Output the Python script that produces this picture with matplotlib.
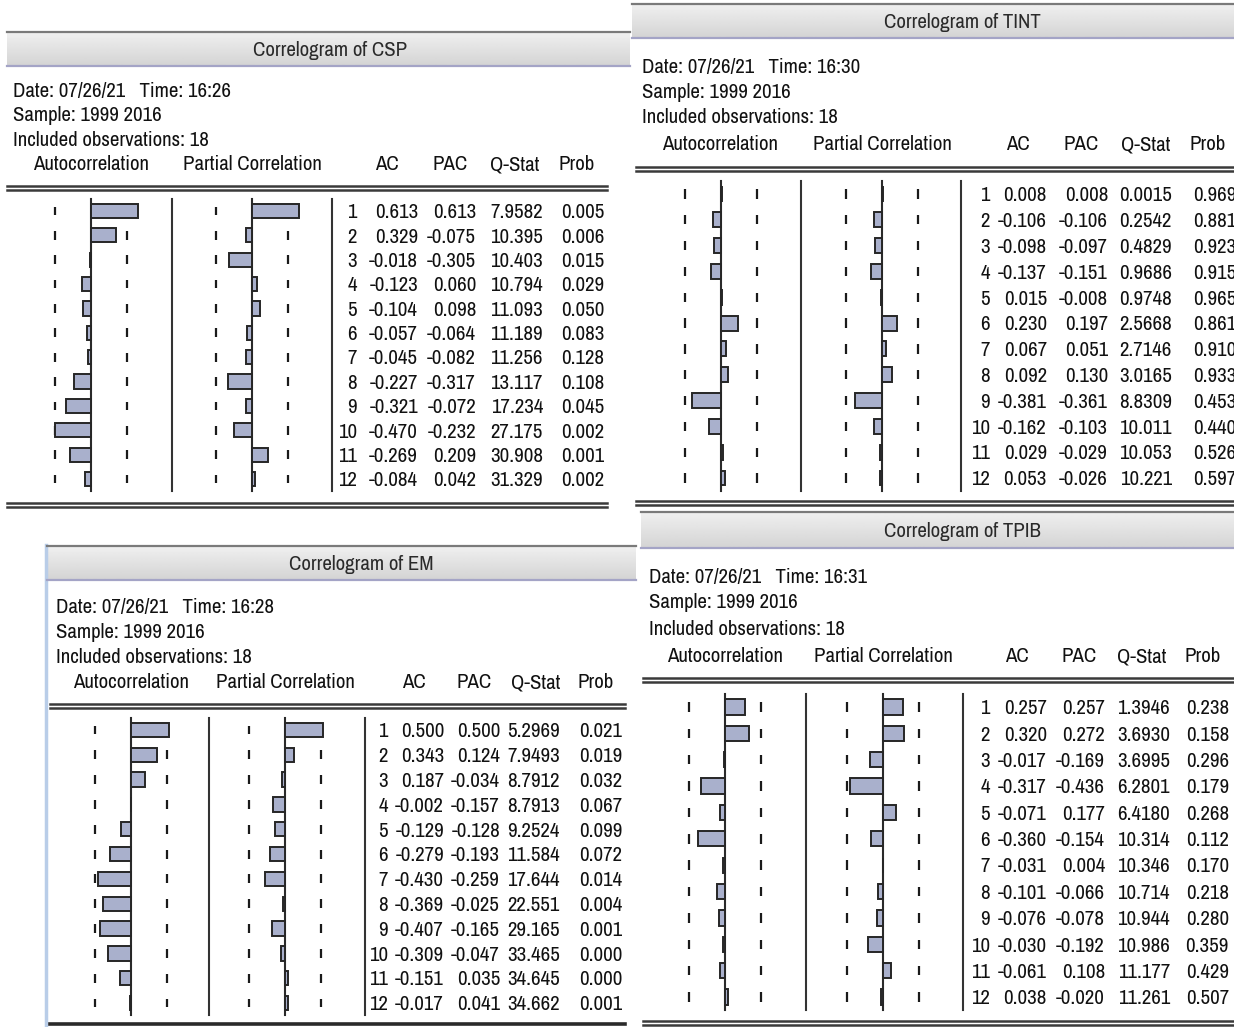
import numpy as np
import matplotlib
matplotlib.use('Agg')
import matplotlib.pyplot as plt

plt.rcParams['font.family'] = ['Archivo Narrow', 'DejaVu Sans']

W, H = 1234, 1027
LAGS = np.arange(1, 13)
BOUND = 2 / np.sqrt(18)
BAR = '#a9b0cc'
EDGE = '#262626'
INK = '#111111'
FS = 15
DY = 1.8  # the narrow font sits a little high when centred

# ---- data ----
csp_ac = [0.613, 0.329, -0.018, -0.123, -0.104, -0.057, -0.045, -0.227, -0.321, -0.470, -0.269, -0.084]
csp_pac = [0.613, -0.075, -0.305, 0.060, 0.098, -0.064, -0.082, -0.317, -0.072, -0.232, 0.209, 0.042]
csp_q = [7.9582, 10.395, 10.403, 10.794, 11.093, 11.189, 11.256, 13.117, 17.234, 27.175, 30.908, 31.329]
csp_prob = [0.005, 0.006, 0.015, 0.029, 0.050, 0.083, 0.128, 0.108, 0.045, 0.002, 0.001, 0.002]

tint_ac = [0.008, -0.106, -0.098, -0.137, 0.015, 0.230, 0.067, 0.092, -0.381, -0.162, 0.029, 0.053]
tint_pac = [0.008, -0.106, -0.097, -0.151, -0.008, 0.197, 0.051, 0.130, -0.361, -0.103, -0.029, -0.026]
tint_q = [0.0015, 0.2542, 0.4829, 0.9686, 0.9748, 2.5668, 2.7146, 3.0165, 8.8309, 10.011, 10.053, 10.221]
tint_prob = [0.969, 0.881, 0.923, 0.915, 0.965, 0.861, 0.910, 0.933, 0.453, 0.440, 0.526, 0.597]

em_ac = [0.500, 0.343, 0.187, -0.002, -0.129, -0.279, -0.430, -0.369, -0.407, -0.309, -0.151, -0.017]
em_pac = [0.500, 0.124, -0.034, -0.157, -0.128, -0.193, -0.259, -0.025, -0.165, -0.047, 0.035, 0.041]
em_q = [5.2969, 7.9493, 8.7912, 8.7913, 9.2524, 11.584, 17.644, 22.551, 29.165, 33.465, 34.645, 34.662]
em_prob = [0.021, 0.019, 0.032, 0.067, 0.099, 0.072, 0.014, 0.004, 0.001, 0.000, 0.000, 0.001]

tpib_ac = [0.257, 0.320, -0.017, -0.317, -0.071, -0.360, -0.031, -0.101, -0.076, -0.030, -0.061, 0.038]
tpib_pac = [0.257, 0.272, -0.169, -0.436, 0.177, -0.154, 0.004, -0.066, -0.078, -0.192, 0.108, -0.020]
tpib_q = [1.3946, 3.6930, 3.6995, 6.2801, 6.4180, 10.314, 10.346, 10.714, 10.944, 10.986, 11.177, 11.261]
tpib_prob = [0.238, 0.158, 0.296, 0.179, 0.268, 0.112, 0.170, 0.218, 0.280, 0.359, 0.429, 0.507]

fig = plt.figure(figsize=(W / 100, H / 100), dpi=100)
bg = fig.add_axes([0, 0, 1, 1])
bg.set_autoscale_on(False)
bg.set_xlim(0, W)
bg.set_ylim(H, 0)
bg.axis('off')


def fmt_q(v):
    return '%.4f' % v if v < 10 else '%.3f' % v


def title_bar(x0, x1, y0, y1, text, cx):
    grad = np.linspace(0.94, 0.83, 40).reshape(-1, 1)
    bg.imshow(grad, cmap='gray', vmin=0, vmax=1, extent=(x0, x1, y1, y0),
              aspect='auto', zorder=1, interpolation='bilinear')
    bg.plot([x0, x1], [y0, y0], color='#7a7a7a', lw=1.6, zorder=2)
    bg.plot([x0, x1], [y1, y1], color='#a4a4c6', lw=1.6, zorder=2)
    bg.text(cx, (y0 + y1) / 2 + DY, text, ha='center', va='center', fontsize=FS, color='#2a2a2a', zorder=3)


def double_line(x0, x1, y):
    bg.plot([x0, x1], [y, y], color='#3a3a3a', lw=1.8)
    bg.plot([x0, x1], [y + 4, y + 4], color='#3a3a3a', lw=1.8)


def bar_column(zero, scale, row1, row12, vals):
    sp = (row12 - row1) / 11
    top = row1 - sp / 2
    bot = row12 + sp / 2
    half = 0.75
    ax = fig.add_axes([(zero - half * scale) / W, 1 - bot / H, 2 * half * scale / W, (bot - top) / H])
    ax.set_xlim(-half, half)
    ax.set_ylim(12.5, 0.5)
    ax.axis('off')
    ax.patch.set_alpha(0)
    for b in (-BOUND, BOUND):
        ax.vlines([b] * 12, LAGS - 0.18, LAGS + 0.18, color='#1a1a1a', lw=1.6, zorder=1)
    ax.plot([0, 0], [0.5, 12.5], color='#2a2a2a', lw=1.5, zorder=2, clip_on=False)
    ax.barh(LAGS, vals, height=0.58, color=BAR, edgecolor=EDGE, linewidth=1.4, zorder=3)


def panel(name, time, ac, pac, q, prob, g):
    title_bar(g['tx0'], g['tx1'], g['ty0'], g['ty1'], 'Correlogram of ' + name, g['tcx'])
    info = ['Date: 07/26/21   Time: ' + time, 'Sample: 1999 2016', 'Included observations: 18']
    for s, y in zip(info, g['info_y']):
        bg.text(g['info_x'], y + DY, s, ha='left', va='center', fontsize=FS, color=INK)
    hy = g['head_y'] + DY
    heads = ['Autocorrelation', 'Partial Correlation', 'AC', 'PAC', 'Q-Stat', 'Prob']
    for s, x in zip(heads, g['head_x']):
        bg.text(x, hy, s, ha='center', va='center', fontsize=FS, color=INK)
    double_line(g['lx0'], g['lx1'], g['line_y'])
    r1, r12 = g['rows']
    sp = (r12 - r1) / 11
    for sx in g['seps']:
        bg.plot([sx, sx], [r1 - sp / 2, r12 + sp / 2], color='#333333', lw=1.5)
    bar_column(g['ac0'], g['scale'], r1, r12, ac)
    bar_column(g['pac0'], g['scale'], r1, r12, pac)
    cols = g['num_x']
    for i, lag in enumerate(LAGS):
        y = r1 + i * sp + DY
        row = [str(lag), '%.3f' % ac[i], '%.3f' % pac[i], fmt_q(q[i]), '%.3f' % prob[i]]
        for s, x in zip(row, cols):
            bg.text(x, y, s, ha='right', va='center', fontsize=FS, color=INK)
    yb = g['bottom_y']
    if g.get('single'):
        bg.plot([g['lx0'], g['lx1']], [yb, yb], color='#2a2a2a', lw=2.6)
    else:
        double_line(g['lx0'], g['lx1'], yb)


panel('CSP', '16:26', csp_ac, csp_pac, csp_q, csp_prob, dict(
    tx0=7, tx1=630, ty0=32, ty1=66, tcx=330,
    info_x=13, info_y=[90, 114, 139],
    head_y=163, head_x=[91, 252, 387, 450, 515, 577],
    lx0=7, lx1=607, line_y=186,
    rows=(211, 479), ac0=91, pac0=252, scale=77, seps=[172, 332],
    num_x=[357, 418, 476, 543, 604], bottom_y=503))

panel('TINT', '16:30', tint_ac, tint_pac, tint_q, tint_prob, dict(
    tx0=632, tx1=1234, ty0=4, ty1=38, tcx=962,
    info_x=642, info_y=[66, 91, 116],
    head_y=143, head_x=[720, 882, 1018, 1081, 1146, 1208],
    lx0=636, lx1=1234, line_y=167,
    rows=(194, 478), ac0=721, pac0=882, scale=76, seps=[801, 961],
    num_x=[990, 1047, 1108, 1172, 1236], bottom_y=501))

# EM window frame edge
bg.plot([46, 46], [545, 1027], color='#b9cde8', lw=2.5)
panel('EM', '16:28', em_ac, em_pac, em_q, em_prob, dict(
    tx0=47, tx1=636, ty0=546, ty1=580, tcx=361,
    info_x=56, info_y=[606, 631, 656],
    head_y=681, head_x=[131, 285, 414, 474, 536, 596],
    lx0=50, lx1=625, line_y=704,
    rows=(730, 1003), ac0=131, pac0=285, scale=76, seps=[209, 365],
    num_x=[388, 444, 500, 560, 622], bottom_y=1024, single=True))

panel('TPIB', '16:31', tpib_ac, tpib_pac, tpib_q, tpib_prob, dict(
    tx0=641, tx1=1234, ty0=512, ty1=548, tcx=962,
    info_x=649, info_y=[576, 601, 628],
    head_y=655, head_x=[725, 883, 1017, 1079, 1142, 1203],
    lx0=643, lx1=1234, line_y=678,
    rows=(707, 997), ac0=725, pac0=883, scale=76, seps=[806, 963],
    num_x=[990, 1047, 1105, 1170, 1229], bottom_y=1021))

bg.set_xlim(0, W)
bg.set_ylim(H, 0)
fig.savefig('out.png', dpi=100)
